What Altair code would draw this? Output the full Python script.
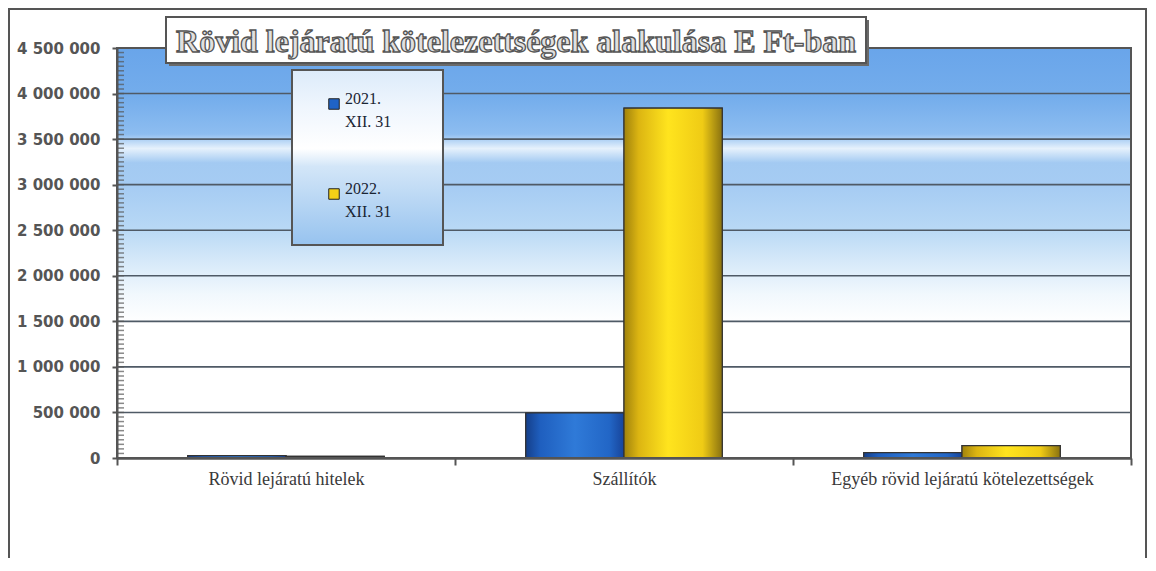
import altair as alt
import pandas as pd

# ---------------- data ----------------
categories = ["Rövid lejáratú hitelek", "Szállítók", "Egyéb rövid lejáratú kötelezettségek"]
series = ["2021. XII. 31", "2022. XII. 31"]
values_2021 = [25000, 494000, 60000]
values_2022 = [18000, 3840000, 135000]
y_ticks = [0, 500000, 1000000, 1500000, 2000000, 2500000, 3000000, 3500000, 4000000, 4500000]
minor_ticks = list(range(0, 4500001, 50000))
title_text = "Rövid lejáratú kötelezettségek alakulása E Ft-ban"

rows = []
for c, v1, v2 in zip(categories, values_2021, values_2022):
    rows.append({"category": c, "series": series[0], "value": v1})
    rows.append({"category": c, "series": series[1], "value": v2})
df = pd.DataFrame(rows)

W, H = 1014, 410
one = pd.DataFrame({"a": [0]})

x_enc = alt.X(
    "category:N", sort=categories, title=None,
    scale=alt.Scale(paddingInner=0, paddingOuter=0),
    axis=alt.Axis(labelAngle=0, tickBand="extent", labelLimit=400, grid=False, zindex=1),
)
y_enc = alt.Y(
    "value:Q", title=None,
    scale=alt.Scale(domain=[0, 4500000], nice=False, zero=True),
    axis=alt.Axis(
        values=y_ticks,
        labelExpr="replace(replace(format(datum.value, ','), ',', ' '), ',', ' ')",
        grid=False, zindex=1,
    ),
)
xoff = alt.XOffset("series:N", sort=series, scale=alt.Scale(paddingInner=0, paddingOuter=0.72))

# outer frame of the whole chart
outer = alt.Chart(one).mark_rect(fill="white", fillOpacity=0, stroke="#555555", strokeWidth=2).encode(
    x=alt.value(-108), x2=alt.value(1029), y=alt.value(-39), y2=alt.value(700)
)

bg_grad = alt.Gradient(
    gradient="linear", x1=0, y1=0, x2=0, y2=1,
    stops=[
        alt.GradientStop(offset=0.0, color="#69a5ea"),
        alt.GradientStop(offset=0.12, color="#74adec"),
        alt.GradientStop(offset=0.21, color="#8dbdf0"),
        alt.GradientStop(offset=0.245, color="#e6f1fc"),
        alt.GradientStop(offset=0.28, color="#a3caf2"),
        alt.GradientStop(offset=0.34, color="#a6ccf3"),
        alt.GradientStop(offset=0.44, color="#b8d8f5"),
        alt.GradientStop(offset=0.52, color="#d6e9f9"),
        alt.GradientStop(offset=0.60, color="#f1f8fd"),
        alt.GradientStop(offset=0.67, color="#ffffff"),
        alt.GradientStop(offset=1.0, color="#ffffff"),
    ],
)
background = alt.Chart(one).mark_rect(fill=bg_grad).encode(
    x=alt.value(0), x2=alt.value(W), y=alt.value(0), y2=alt.value(H)
)

grid = alt.Chart(pd.DataFrame({"value": y_ticks})).mark_rule(color="#4f5a66", strokeWidth=1.6).encode(
    y=y_enc
)

minor = alt.Chart(pd.DataFrame({"value": minor_ticks})).mark_tick(
    orient="horizontal", size=7, thickness=1.5, color="#555555"
).encode(y=y_enc, x=alt.value(3.5))

bars_base = alt.Chart(df).mark_bar(stroke="#333333", strokeWidth=1.2).encode(
    x=x_enc, xOffset=xoff, y=y_enc,
    color=alt.Color("series:N", sort=series,
                    scale=alt.Scale(domain=series, range=["#1f63c6", "#f3d018"]),
                    legend=alt.Legend(
                        title=None,
                        labelExpr="[substring(datum.label, 0, 5), substring(datum.label, 6)]",
                    )),
)

blue_grad = alt.Gradient(
    gradient="linear", x1=0, y1=0, x2=1, y2=0,
    stops=[
        alt.GradientStop(offset=0.0, color="#153f8a"),
        alt.GradientStop(offset=0.15, color="#1f5fbf"),
        alt.GradientStop(offset=0.5, color="#2f7ad8"),
        alt.GradientStop(offset=0.85, color="#2266c6"),
        alt.GradientStop(offset=1.0, color="#17449a"),
    ],
)
yellow_grad = alt.Gradient(
    gradient="linear", x1=0, y1=0, x2=1, y2=0,
    stops=[
        alt.GradientStop(offset=0.0, color="#a0820c"),
        alt.GradientStop(offset=0.15, color="#dcb512"),
        alt.GradientStop(offset=0.45, color="#ffe41e"),
        alt.GradientStop(offset=0.8, color="#efcb15"),
        alt.GradientStop(offset=1.0, color="#8a7210"),
    ],
)
bars_blue = alt.Chart(df).transform_filter(alt.datum.series == series[0]).mark_bar(
    fill=blue_grad, stroke="#333333", strokeWidth=1.2
).encode(x=x_enc, xOffset=xoff, y=y_enc)
bars_yellow = alt.Chart(df).transform_filter(alt.datum.series == series[1]).mark_bar(
    fill=yellow_grad, stroke="#333333", strokeWidth=1.2
).encode(x=x_enc, xOffset=xoff, y=y_enc)

plot_border = alt.Chart(one).mark_rect(fill="white", fillOpacity=0, stroke="#555555", strokeWidth=2).encode(
    x=alt.value(0), x2=alt.value(W), y=alt.value(0), y2=alt.value(H)
)

# title box
title_shadow = alt.Chart(one).mark_rect(fill="#6a6a6a").encode(
    x=alt.value(52), x2=alt.value(752), y=alt.value(-28), y2=alt.value(18)
)
title_box = alt.Chart(one).mark_rect(fill="white", stroke="#555555", strokeWidth=2).encode(
    x=alt.value(49), x2=alt.value(749), y=alt.value(-31), y2=alt.value(15)
)
title_mark = alt.Chart(pd.DataFrame({"t": [title_text]})).mark_text(
    font="Liberation Serif", fontSize=32, fontWeight="bold", fill="#e0e0e0",
    stroke="#555555", strokeWidth=1.3, align="center", baseline="alphabetic"
).encode(text="t:N", x=alt.value(399), y=alt.value(4))

# legend box
leg_grad = alt.Gradient(
    gradient="linear", x1=0, y1=0, x2=0, y2=1,
    stops=[
        alt.GradientStop(offset=0.0, color="#dcebfa"),
        alt.GradientStop(offset=0.2, color="#eef5fd"),
        alt.GradientStop(offset=0.45, color="#ffffff"),
        alt.GradientStop(offset=0.55, color="#d3e6f8"),
        alt.GradientStop(offset=1.0, color="#97c3ef"),
    ],
)
legend_box = alt.Chart(one).mark_rect(fill=leg_grad, stroke="#555555", strokeWidth=2).encode(
    x=alt.value(175), x2=alt.value(326), y=alt.value(22), y2=alt.value(197)
)

chart = alt.layer(
    outer, background, grid, minor, bars_base, bars_blue, bars_yellow, plot_border,
    title_shadow, title_box, title_mark, legend_box,
).properties(
    width=W, height=H,
    background="white",
    autosize=alt.AutoSizeParams(type="none"),
    padding={"left": 109, "top": 40, "right": 17, "bottom": 100},
).configure_view(stroke=None).configure_axisX(
    labelFont="Liberation Serif", labelFontSize=18, labelColor="#3a3a3a",
    labelPadding=5, domainColor="#555555", domainWidth=2.5,
    tickColor="#555555", tickWidth=2, tickSize=7,
).configure_axisY(
    labelFont="DejaVu Sans", labelFontWeight="bold", labelFontSize=15,
    labelColor="#555555", labelPadding=12, domainColor="#555555",
    domainWidth=2, tickColor="#555555", tickWidth=2, tickSize=5,
).configure_legend(
    orient="none", legendX=209, legendY=48, padding=0,
    symbolType="square", symbolSize=110, symbolStrokeColor="#222222", symbolStrokeWidth=1,
    labelFont="Liberation Serif", labelFontSize=16, labelColor="#1a2533",
    labelBaseline="alphabetic", labelOffset=3, rowPadding=51,
)
chart.config.style = {"guide-label": {"lineHeight": 23}}

chart.save("out.html", embed_options={"renderer": "svg", "actions": False})
